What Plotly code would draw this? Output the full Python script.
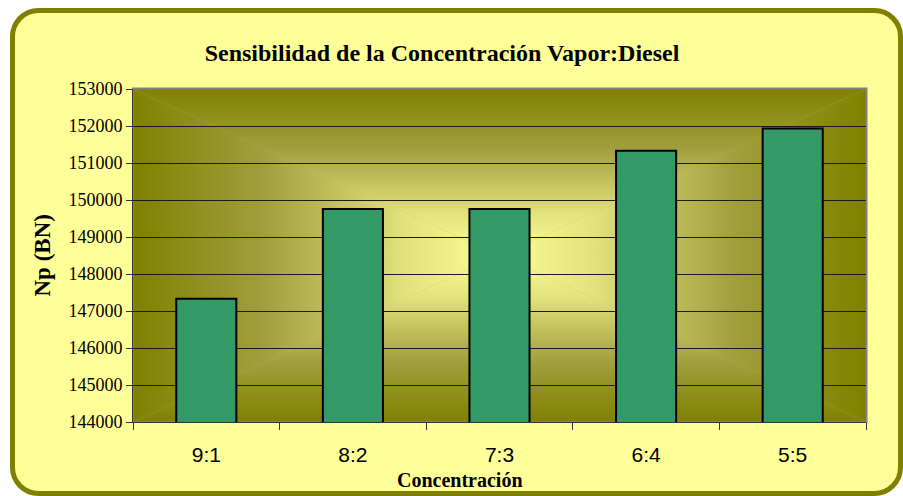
import base64
import plotly.graph_objects as go

# Chart data
categories = ["9:1", "8:2", "7:3", "6:4", "5:5"]
np_values = [147330, 149760, 149760, 151330, 151930]
y_ticks = [144000, 145000, 146000, 147000, 148000, 149000, 150000, 151000, 152000, 153000]

# Canvas and plot-area geometry (pixels)
W, H = 903, 496
L, R, T, B = 133, 866, 89, 422
PW, PH = R - L, B - T
CX, CY = (L + R) / 2, (T + B) / 2

OLIVE = "#808000"
LIGHT = "#FFFF99"


def stops():
    return (
        f'<stop offset="0" stop-color="{OLIVE}"/>'
        '<stop offset="0.35" stop-color="#A09E3C"/>'
        '<stop offset="0.75" stop-color="#E2E27E"/>'
        f'<stop offset="1" stop-color="{LIGHT}"/>'
    )


# Background: rounded yellow frame plus a rectangular "from centre" gradient panel
svg = f'''<svg xmlns="http://www.w3.org/2000/svg" width="{W}" height="{H}" viewBox="0 0 {W} {H}" preserveAspectRatio="none">
<defs>
<linearGradient id="gt" gradientUnits="userSpaceOnUse" x1="0" y1="{T}" x2="0" y2="{CY}">{stops()}</linearGradient>
<linearGradient id="gb" gradientUnits="userSpaceOnUse" x1="0" y1="{B}" x2="0" y2="{CY}">{stops()}</linearGradient>
<linearGradient id="gl" gradientUnits="userSpaceOnUse" x1="{L}" y1="0" x2="{CX}" y2="0">{stops()}</linearGradient>
<linearGradient id="gr" gradientUnits="userSpaceOnUse" x1="{R}" y1="0" x2="{CX}" y2="0">{stops()}</linearGradient>
</defs>
<rect x="12.5" y="10.5" width="888" height="483" rx="26" ry="26" fill="{LIGHT}" stroke="{OLIVE}" stroke-width="5"/>
<rect x="{L}" y="{T}" width="{PW}" height="{PH}" fill="#B8B650"/>
<polygon points="{L},{T} {R},{T} {CX},{CY}" fill="url(#gt)"/>
<polygon points="{L},{B} {R},{B} {CX},{CY}" fill="url(#gb)"/>
<polygon points="{L},{T} {L},{B} {CX},{CY}" fill="url(#gl)"/>
<polygon points="{R},{T} {R},{B} {CX},{CY}" fill="url(#gr)"/>
<rect x="{L}" y="{T - 0.5}" width="{PW + 0.5}" height="{PH + 0.5}" fill="none" stroke="#808080" stroke-width="2"/>
</svg>'''
bg_src = "data:image/svg+xml;base64," + base64.b64encode(svg.encode("utf-8")).decode("ascii")

fig = go.Figure(
    go.Bar(
        x=categories,
        y=np_values,
        marker=dict(color="#339966", line=dict(color="black", width=2)),
        width=0.41,
    )
)

fig.update_layout(
    width=W,
    height=H,
    margin=dict(l=L, r=W - R, t=T, b=H - B),
    paper_bgcolor="white",
    plot_bgcolor="rgba(0,0,0,0)",
    showlegend=False,
    title=dict(
        text="<b>Sensibilidad de la Concentración Vapor:Diesel</b>",
        font=dict(family="Liberation Serif", size=24, color="black"),
        x=442 / W,
        xanchor="center",
        xref="container",
        y=1 - 53 / H,
        yanchor="middle",
        yref="container",
    ),
    images=[
        dict(
            source=bg_src,
            xref="paper",
            yref="paper",
            x=-L / PW,
            y=1 + T / PH,
            sizex=W / PW,
            sizey=H / PH,
            xanchor="left",
            yanchor="top",
            sizing="stretch",
            layer="below",
        )
    ],
    xaxis=dict(
        type="category",
        range=[-0.5, 4.5],
        showline=True,
        linecolor="#333333",
        linewidth=1,
        ticks="outside",
        tickson="boundaries",
        ticklen=7,
        tickcolor="#333333",
        showgrid=False,
        tickfont=dict(family="Liberation Sans", size=21, color="black"),
        ticklabelstandoff=14,
    ),
    yaxis=dict(
        range=[144000, 153000],
        tickvals=y_ticks,
        ticktext=[str(v) for v in y_ticks],
        showgrid=True,
        gridcolor="#1a1a1a",
        gridwidth=1,
        zeroline=False,
        showline=True,
        linecolor="#333333",
        linewidth=1,
        ticks="outside",
        ticklen=6,
        tickcolor="#333333",
        tickfont=dict(family="Liberation Serif", size=18, color="black"),
    ),
    annotations=[
        dict(
            text="<b>Concentración</b>",
            xref="paper",
            yref="paper",
            x=(460 - L) / PW,
            y=-(480 - B) / PH,
            xanchor="center",
            yanchor="middle",
            showarrow=False,
            font=dict(family="Liberation Serif", size=20, color="black"),
        ),
        dict(
            text="<b>Np (BN)</b>",
            xref="paper",
            yref="paper",
            x=-(L - 42) / PW,
            y=0.5,
            xanchor="center",
            yanchor="middle",
            textangle=-90,
            showarrow=False,
            font=dict(family="Liberation Serif", size=23, color="black"),
        ),
    ],
)

fig.write_html("out.html")
